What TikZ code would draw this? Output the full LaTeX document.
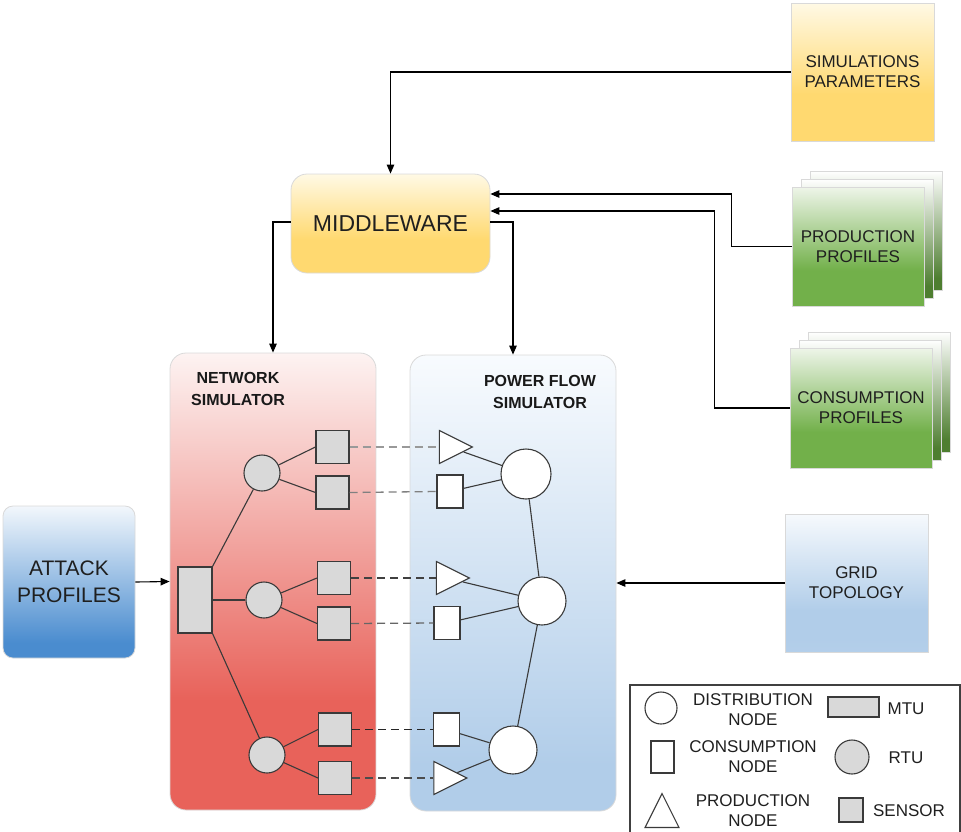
\documentclass[tikz,border=0pt]{standalone}
\usepackage{fontspec}
\setmainfont{Liberation Sans}
\usetikzlibrary{arrows.meta,shapes.geometric}

% palette
\definecolor{creamT}{HTML}{FFF9E5}
\definecolor{yelB}{HTML}{FFD970}
\definecolor{pinkT}{HTML}{FDF3F2}
\definecolor{redB}{HTML}{E8625A}
\definecolor{blueT}{HTML}{F8FBFE}
\definecolor{blueB}{HTML}{B1CDE9}
\definecolor{atkT}{HTML}{F2F7FC}
\definecolor{atkB}{HTML}{4A8CCF}
\definecolor{grnT}{HTML}{EEF5E9}
\definecolor{grnB}{HTML}{72B04A}
\definecolor{grnD}{HTML}{4E7E30}
\definecolor{nodegray}{HTML}{D9D9D9}
\definecolor{edge}{HTML}{3A3A3A}

% vertical shadings (0bp = bottom, 100bp = top; TikZ uses 25bp..75bp)
\pgfdeclareverticalshading{yelshade}{100bp}{color(0bp)=(yelB); color(42bp)=(yelB); color(75bp)=(creamT); color(100bp)=(creamT)}
\pgfdeclareverticalshading{redshade}{100bp}{color(0bp)=(redB); color(37bp)=(redB); color(75bp)=(pinkT); color(100bp)=(pinkT)}
\pgfdeclareverticalshading{pfshade}{100bp}{color(0bp)=(blueB); color(30bp)=(blueB); color(75bp)=(blueT); color(100bp)=(blueT)}
\pgfdeclareverticalshading{atkshade}{100bp}{color(0bp)=(atkB); color(30bp)=(atkB); color(75bp)=(atkT); color(100bp)=(atkT)}
\pgfdeclareverticalshading{gridshade}{100bp}{color(0bp)=(blueB!80!white); color(30bp)=(blueB); color(40bp)=(blueB); color(75bp)=(blueT!70!blueB!30!white); color(100bp)=(blueT)}
\pgfdeclareverticalshading{grnshade}{100bp}{color(0bp)=(grnB); color(40bp)=(grnB); color(75bp)=(grnT); color(100bp)=(grnT)}
\pgfdeclareverticalshading{grnback}{100bp}{color(0bp)=(grnD); color(30bp)=(grnD); color(75bp)=(white); color(100bp)=(white)}

\tikzset{
  lbl/.style={font=\fontsize{17}{20}\selectfont, text=black!88, align=center},
  boldlbl/.style={font=\bfseries\fontsize{16}{22}\selectfont, text=black!90, align=center},
  panel/.style={draw=black!15, line width=0.8pt},
  frontsheet/.style={panel, shading=grnshade, lbl, inner sep=0pt},
  arr/.style={draw=black, line width=1.1pt, -{Triangle[length=9pt,width=7.5pt]}},
  wire/.style={draw=edge, line width=1.1pt},
  mtubox/.style={draw=edge, fill=nodegray, line width=1.1pt, rectangle, inner sep=0pt},
  rtucirc/.style={draw=edge, fill=nodegray, line width=1.1pt, circle, inner sep=0pt, minimum size=36pt},
  sensorbox/.style={draw=edge, fill=nodegray, line width=1.1pt, rectangle, inner sep=0pt, minimum width=33pt, minimum height=33pt},
  distcirc/.style={draw=edge, fill=white, line width=1.1pt, circle, inner sep=0pt},
  consbox/.style={draw=edge, fill=white, line width=1.1pt, rectangle, inner sep=0pt, minimum width=26pt, minimum height=33pt},
  prodtri/.style={draw=edge, fill=white, line width=1.1pt, isosceles triangle, isosceles triangle stretches,
                  minimum width=33pt, minimum height=33pt, inner sep=0pt},
  link/.style={dashed, dash pattern=on 8pt off 5pt, line width=1.3pt},
}

\begin{document}
\begin{tikzpicture}[x=1pt,y=-1pt]
\useasboundingbox (0,0) rectangle (961,831);

% ---------- input boxes on the right ----------
\node[panel, shading=yelshade, lbl, minimum width=143pt, minimum height=138pt, inner sep=0pt]
  (simp) at (862.5,72) {SIMULATIONS\\PARAMETERS};

% production profiles: three stacked sheets
\node[panel, shading=grnback, minimum width=132pt, minimum height=119pt] (prodb2) at (876,230.5) {};
\node[panel, shading=grnback, minimum width=132pt, minimum height=119pt] (prodb1) at (867,238.5) {};
\node[frontsheet, minimum width=132pt, minimum height=119pt] (prod) at (858,246.5) {PRODUCTION\\PROFILES};

% consumption profiles: three stacked sheets
\node[panel, shading=grnback, minimum width=142pt, minimum height=120pt] (consb2) at (879,392) {};
\node[panel, shading=grnback, minimum width=142pt, minimum height=120pt] (consb1) at (870,400) {};
\node[frontsheet, minimum width=142pt, minimum height=120pt] (cons) at (861,408) {CONSUMPTION\\PROFILES};

\node[panel, shading=gridshade, lbl, minimum width=143pt, minimum height=138pt, inner sep=0pt]
  (grid) at (856.5,583) {GRID\\TOPOLOGY};

% ---------- middleware ----------
\node[panel, shading=yelshade, rounded corners=16pt, minimum width=199pt, minimum height=99pt,
      font=\fontsize{23}{26}\selectfont, text=black!88, inner sep=0pt]
  (mw) at (390.5,223.5) {MIDDLEWARE};

% ---------- attack profiles ----------
\node[panel, shading=atkshade, rounded corners=10pt, minimum width=132pt, minimum height=152pt,
      font=\fontsize{21}{27}\selectfont, text=black!88, align=center, inner sep=0pt]
  (atk) at (69,582) {ATTACK\\PROFILES};

% ---------- simulator panels ----------
\node[panel, shading=redshade, rounded corners=16pt, minimum width=206pt, minimum height=457pt] (ns) at (273,581.5) {};
\node[panel, shading=pfshade, rounded corners=16pt, minimum width=206pt, minimum height=456pt] (pf) at (513,583) {};

\node[boldlbl] (nslbl) at (238,389) {NETWORK\\SIMULATOR};
\node[boldlbl] (pflbl) at (540,392) {POWER FLOW\\SIMULATOR};

% ---------- communication network ----------
\node[mtubox, minimum width=34pt, minimum height=66pt] (mtu) at (195,600) {};
\node[rtucirc] (r1) at (262,473) {};
\node[rtucirc] (r2) at (264,600) {};
\node[rtucirc] (r3) at (267,755) {};
\node[sensorbox] (s1) at (332.5,447) {};
\node[sensorbox] (s2) at (332.5,492.5) {};
\node[sensorbox] (s3) at (334,578) {};
\node[sensorbox] (s4) at (334,623.5) {};
\node[sensorbox] (s5) at (335,729.5) {};
\node[sensorbox] (s6) at (335,778) {};

\draw[wire] (mtu.north east) -- (r1);
\draw[wire] (mtu.east) -- (r2);
\draw[wire] (mtu.south east) -- (r3);
\foreach \r/\a/\b in {r1/s1/s2, r2/s3/s4, r3/s5/s6}{
  \draw[wire] (\r) -- (\a.west);
  \draw[wire] (\r) -- (\b.west);
}

% ---------- power grid ----------
\node[prodtri] (p1) at (449.5,447) {};
\node[consbox] (c1) at (450,491.5) {};
\node[distcirc, minimum size=50pt] (d1) at (526,474) {};
\node[prodtri] (p2) at (446.5,578) {};
\node[consbox] (c2) at (447,623) {};
\node[distcirc, minimum size=48pt] (d2) at (542,601) {};
\node[consbox] (c3) at (446.5,729.5) {};
\node[prodtri] (p3) at (444,778) {};
\node[distcirc, minimum size=48pt] (d3) at (513,750) {};

\draw[wire] (p1) -- (d1);
\draw[wire] (c1) -- (d1);
\draw[wire] (p2) -- (d2);
\draw[wire] (c2) -- (d2);
\draw[wire] (c3) -- (d3);
\draw[wire] (p3) -- (d3);
\draw[wire] (d1) -- (d2);
\draw[wire] (d2) -- (d3);

% sensor-to-grid mapping
\draw[link, draw=black!40] (s1.east) -- (p1.west);
\draw[link, draw=black!50] (s2.east) -- (c1.west);
\draw[link, draw=black!75] (s3.east) -- (p2.west);
\draw[link, draw=black!60] (s4.east) -- (c2.west);
\draw[link, draw=black!85] (s5.east) -- (c3.west);
\draw[link, draw=black!70] (s6.east) -- (p3.west);

% ---------- data flow ----------
\draw[arr] (simp.west) -| (mw.north);
\draw[arr] (prod.west) -- ++(-60,0) |- ([yshift=29.5pt]mw.east);
\draw[arr] (cons.west) -- ++(-75,0) |- ([yshift=12.5pt]mw.east);
\draw[arr] ([yshift=1.5pt]mw.east) -| (pf.north);
\draw[arr] ([yshift=1.5pt]mw.west) -| (ns.north);
\draw[arr] (grid.west) -- (pf.east);
\draw[arr] (atk.east) -- (ns.west);

% ---------- legend ----------
\node[draw=black!75, line width=1.1pt, minimum width=330pt, minimum height=150pt, inner sep=0pt] (legend) at (795,760) {};
\node[distcirc, minimum size=32pt] (lgdist) at (661,708) {};
\node[lbl] (lgdisttxt) at (753,710) {DISTRIBUTION\\NODE};
\node[mtubox, minimum width=51pt, minimum height=20pt] (lgmtu) at (853.5,707) {};
\node[lbl] (lgmtutxt) at (906,709) {MTU};
\node[consbox, minimum width=23pt, minimum height=32pt] (lgcons) at (662.5,757) {};
\node[lbl] (lgconstxt) at (753,757) {CONSUMPTION\\NODE};
\node[rtucirc, minimum size=34pt] (lgrtu) at (852,757) {};
\node[lbl] (lgrtutxt) at (906,758) {RTU};
\node[prodtri, shape border rotate=90, minimum width=34pt, minimum height=34pt] (lgprod) at (662,817) {};
\node[lbl] (lgprodtxt) at (753,811) {PRODUCTION\\NODE};
\node[sensorbox, minimum width=24pt, minimum height=24pt] (lgsens) at (851,810) {};
\node[lbl] (lgsenstxt) at (909,811) {SENSOR};
\end{tikzpicture}
\end{document}
